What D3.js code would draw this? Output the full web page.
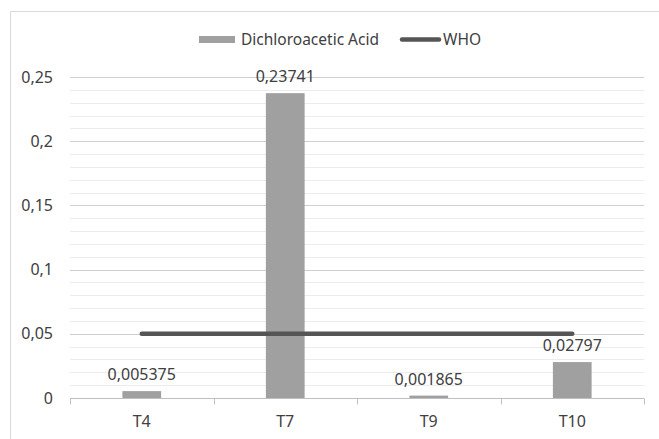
<!DOCTYPE html>
<html>
<head>
<meta charset="utf-8">
<script src="https://cdnjs.cloudflare.com/ajax/libs/d3/7.8.5/d3.min.js"></script>
<style>
  html, body { margin: 0; padding: 0; background: #fff; }
  svg { display: block; font-family: "Noto Sans", "Open Sans", sans-serif; }
</style>
</head>
<body>
<div id="chart"></div>
<script>
const categories = ['T4', 'T7', 'T9', 'T10'];
const acidValues = [0.005375, 0.23741, 0.001865, 0.02797];
const acidLabels = ['0,005375', '0,23741', '0,001865', '0,02797'];
const whoValues = [0.05, 0.05, 0.05, 0.05];
const yTicks = [0, 0.05, 0.1, 0.15, 0.2, 0.25];
const yTickLabels = ['0', '0,05', '0,1', '0,15', '0,2', '0,25'];
const minorTicks = d3.range(1, 25).map(i => i / 100);

const width = 659, height = 439;
const margin = { left: 70, right: 15, top: 77, bottom: 41 };
const textColor = '#404040';
const fontSize = 16;

const svg = d3.select('#chart').append('svg')
  .attr('width', width)
  .attr('height', height);

// chart frame (only top and left edges are visible in the crop)
svg.append('path')
  .attr('d', `M10.5,${height + 2} V11.5 H${width + 2}`)
  .attr('fill', 'none')
  .attr('stroke', '#d9d9d9');

const x = d3.scaleBand()
  .domain(categories)
  .range([margin.left, width - margin.right])
  .paddingInner(0.73)
  .paddingOuter(0.365);

const band = (width - margin.right - margin.left) / categories.length;
const xCenter = d => margin.left + band * (categories.indexOf(d) + 0.5);

const y = d3.scaleLinear()
  .domain([0, 0.25])
  .range([height - margin.bottom, margin.top]);

// minor gridlines
svg.append('g').selectAll('line')
  .data(minorTicks.filter(v => Math.round(v * 100) % 5 !== 0))
  .join('line')
  .attr('x1', margin.left).attr('x2', width - margin.right)
  .attr('y1', d => Math.round(y(d)) + 0.5).attr('y2', d => Math.round(y(d)) + 0.5)
  .attr('stroke', '#ececec');

// major gridlines
svg.append('g').selectAll('line')
  .data(yTicks.slice(1))
  .join('line')
  .attr('x1', margin.left).attr('x2', width - margin.right)
  .attr('y1', d => Math.round(y(d)) + 0.5).attr('y2', d => Math.round(y(d)) + 0.5)
  .attr('stroke', '#cfcfcf');

// y labels
svg.append('g').selectAll('text')
  .data(yTicks)
  .join('text')
  .attr('x', 53)
  .attr('y', d => y(d))
  .attr('dy', '0.35em')
  .attr('text-anchor', 'end')
  .attr('font-size', fontSize)
  .attr('fill', textColor)
  .text((d, i) => yTickLabels[i]);

// bars
svg.append('g').selectAll('rect')
  .data(categories)
  .join('rect')
  .attr('x', d => x(d))
  .attr('width', x.bandwidth())
  .attr('y', (d, i) => y(acidValues[i]))
  .attr('height', (d, i) => y(0) - y(acidValues[i]))
  .attr('fill', '#a0a0a0');

// category axis
const xAxisY = Math.round(y(0)) + 0.5;
svg.append('line')
  .attr('x1', margin.left).attr('x2', width - margin.right)
  .attr('y1', xAxisY).attr('y2', xAxisY)
  .attr('stroke', '#bfbfbf');

const tickPos = d3.range(categories.length + 1).map(i => margin.left + band * i);
svg.append('g').selectAll('line')
  .data(tickPos)
  .join('line')
  .attr('x1', d => Math.round(d) + 0.5).attr('x2', d => Math.round(d) + 0.5)
  .attr('y1', xAxisY).attr('y2', xAxisY + 6)
  .attr('stroke', '#bfbfbf');

svg.append('g').selectAll('text')
  .data(categories)
  .join('text')
  .attr('x', d => xCenter(d))
  .attr('y', 427)
  .attr('text-anchor', 'middle')
  .attr('font-size', fontSize)
  .attr('fill', textColor)
  .text(d => d);

// WHO line
const line = d3.line()
  .x(d => xCenter(d))
  .y((d, i) => y(whoValues[i]));

svg.append('path')
  .datum(categories)
  .attr('d', line)
  .attr('fill', 'none')
  .attr('stroke', '#555555')
  .attr('stroke-width', 4.5)
  .attr('stroke-linecap', 'round');

// data labels
svg.append('g').selectAll('text')
  .data(categories)
  .join('text')
  .attr('x', d => xCenter(d))
  .attr('y', (d, i) => y(acidValues[i]) - 11)
  .attr('text-anchor', 'middle')
  .attr('font-size', fontSize)
  .attr('fill', textColor)
  .text((d, i) => acidLabels[i]);

// legend
const legend = svg.append('g').attr('font-size', 15.5).attr('fill', textColor);
legend.append('rect')
  .attr('x', 199).attr('y', 36).attr('width', 36).attr('height', 7)
  .attr('fill', '#a0a0a0');
legend.append('text')
  .attr('x', 241).attr('y', 39.5).attr('dy', '0.35em')
  .text('Dichloroacetic Acid');
legend.append('line')
  .attr('x1', 402).attr('x2', 439).attr('y1', 39.5).attr('y2', 39.5)
  .attr('stroke', '#555555').attr('stroke-width', 4.5).attr('stroke-linecap', 'round');
legend.append('text')
  .attr('x', 443).attr('y', 39.5).attr('dy', '0.35em')
  .text('WHO');
</script>
</body>
</html>
